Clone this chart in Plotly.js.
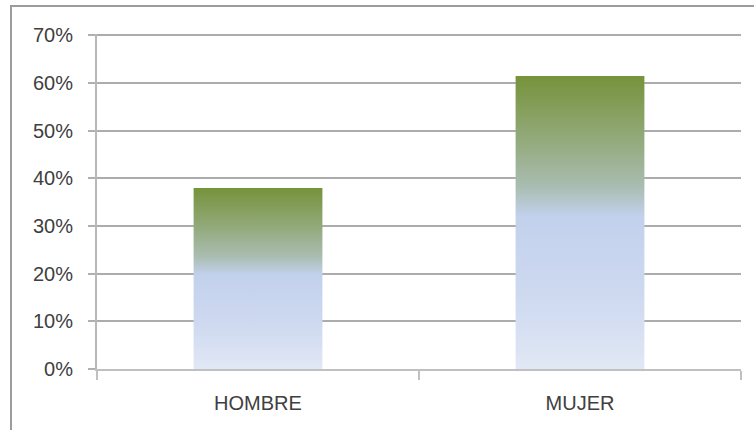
<!DOCTYPE html>
<html>
<head>
<meta charset="utf-8">
<script src="https://cdn.plot.ly/plotly-3.0.1.min.js"></script>
<style>
  html, body { margin: 0; padding: 0; background: #fff; overflow: hidden; }
  #wrap { position: relative; width: 754px; height: 430px; }
  #chart { position: absolute; left: 0; top: 0; width: 754px; height: 430px; }
  #frame {
    position: absolute; left: 10px; top: 5px; width: 800px; height: 500px;
    border: 2px solid #9c9c9c; pointer-events: none; box-sizing: border-box;
  }
</style>
</head>
<body>
<div id="wrap">
  <div id="chart"></div>
  <div id="frame"></div>
</div>
<script>
// Share of respondents by sex
const categories = ['HOMBRE', 'MUJER'];
const shares = [0.38, 0.615];
const yTickValues = [0, 0.1, 0.2, 0.3, 0.4, 0.5, 0.6, 0.7];

const labelFont = { family: 'Liberation Sans, Arial, sans-serif', size: 20, color: '#404040' };

const trace = {
  type: 'bar',
  x: categories,
  y: shares,
  marker: { color: '#c5d3ee', line: { width: 0 } },
  hoverinfo: 'skip'
};

const layout = {
  width: 754,
  height: 430,
  margin: { l: 97, r: 13, t: 34, b: 61 },
  paper_bgcolor: '#ffffff',
  plot_bgcolor: '#ffffff',
  bargap: 0.6,
  showlegend: false,
  xaxis: {
    type: 'category',
    tickson: 'boundaries',
    ticks: 'outside',
    ticklen: 9,
    tickwidth: 2,
    tickcolor: '#c0c0c0',
    showline: true,
    linecolor: '#c0c0c0',
    linewidth: 2,
    showgrid: false,
    tickfont: labelFont,
    ticklabelstandoff: 15
  },
  yaxis: {
    range: [0, 0.703],
    tickvals: yTickValues,
    tickformat: '.0%',
    ticks: 'outside',
    ticklen: 7,
    tickwidth: 2,
    tickcolor: '#b0b0b0',
    showline: true,
    linecolor: '#b8b8b8',
    linewidth: 2,
    showgrid: true,
    gridcolor: '#acacac',
    gridwidth: 2,
    zeroline: false,
    tickfont: labelFont,
    ticklabelstandoff: 11
  }
};

// Vertical olive-to-pale-blue fill applied to the bars the library drew
function applyBarGradient(gd) {
  const svg = gd.querySelector('.main-svg');
  const ns = 'http://www.w3.org/2000/svg';
  let defs = svg.querySelector('defs');
  if (!defs) { defs = document.createElementNS(ns, 'defs'); svg.insertBefore(defs, svg.firstChild); }
  const grad = document.createElementNS(ns, 'linearGradient');
  grad.setAttribute('id', 'barFill');
  grad.setAttribute('x1', '0'); grad.setAttribute('y1', '0');
  grad.setAttribute('x2', '0'); grad.setAttribute('y2', '1');
  const stops = [
    [0, '#76933b'],
    [0.22, '#93aa7c'],
    [0.38, '#aabdb2'],
    [0.48, '#c2d1ec'],
    [0.75, '#ced9f0'],
    [1, '#e1e8f5']
  ];
  stops.forEach(([o, c]) => {
    const s = document.createElementNS(ns, 'stop');
    s.setAttribute('offset', o);
    s.setAttribute('stop-color', c);
    grad.appendChild(s);
  });
  defs.appendChild(grad);
  gd.querySelectorAll('.barlayer .point path').forEach(p => {
    p.style.fill = 'url(#barFill)';
  });
}

Plotly.newPlot('chart', [trace], layout, { staticPlot: true, displayModeBar: false })
  .then(applyBarGradient);
</script>
</body>
</html>
